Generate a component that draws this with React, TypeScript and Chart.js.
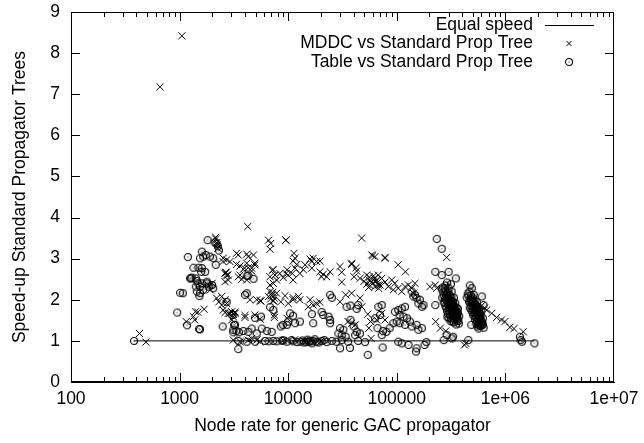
import React, { useEffect, useRef } from 'react';
import { Chart, registerables } from 'chart.js';

Chart.register(...registerables);

const xTickValues = [100, 1000, 10000, 100000, 1000000, 10000000];
const xTickLabels = ['100', '1000', '10000', '100000', '1e+06', '1e+07'];
const yTickValues = [0, 1, 2, 3, 4, 5, 6, 7, 8, 9];
const xTitle = 'Node rate for generic GAC propagator';
const yTitle = 'Speed-up Standard Propagator Trees';
const seriesLabels = ['Equal speed', 'MDDC vs Standard Prop Tree', 'Table vs Standard Prop Tree'];

const equalSpeedX = [380, 1850000];
const equalSpeedY = [1, 1];

const mddcPoints: [number, number][] = [
  [660, 7.18], [1050, 8.42],
  [427, 1.18], [490, 0.97], [1150, 1.47], [1380, 1.51], [1340, 1.59], [1400, 1.71], [1680, 1.77], [1470, 1.70],
  [2150, 3.52], [2200, 3.39], [2230, 3.33], [2150, 3.48], [2250, 3.25],
  [1860, 2.34], [1990, 2.40], [1920, 2.24],
  [2190, 2.04], [2300, 1.95], [2440, 1.87], [2440, 2.08], [2620, 2.0], [2710, 1.91], [2520, 1.75], [2620, 1.69],
  [2810, 1.67], [3020, 1.71], [3240, 1.67], [3120, 1.59], [3020, 1.51],
  [2510, 2.93], [2520, 3.01], [2710, 2.97], [2910, 2.93], [2680, 2.66], [2710, 2.60], [2620, 2.44], [2810, 2.48], [2620, 2.64],
  [3340, 3.13], [3470, 3.09], [4150, 3.11], [4290, 3.05], [4790, 3.09], [4930, 2.89], [4150, 2.89], [3600, 2.82],
  [3860, 2.74], [3470, 2.56], [4150, 2.48], [3730, 2.50], [4600, 2.77], [3600, 2.60],
  [4240, 3.78],
  [3340, 2.86], [3960, 2.77], [4290, 2.78], [4930, 2.85], [4600, 2.70],
  [2660, 2.67], [2780, 2.60],
  [7140, 2.72], [7560, 2.60], [6800, 2.36], [7290, 2.40], [7830, 2.48], [9000, 2.54],
  [6600, 3.45], [6900, 3.37], [6800, 3.23], [9550, 3.45],
  [6800, 2.20], [7140, 2.12], [7450, 2.04], [6600, 2.08], [7290, 1.97], [7830, 2.16], [7000, 2.10], [7200, 2.18], [6900, 2.02],
  [2910, 1.67], [3120, 1.65], [3240, 1.70], [4000, 1.62], [4450, 2.0], [5130, 2.0], [5620, 1.97], [7450, 1.63],
  [4000, 1.57], [4930, 1.63], [5530, 1.53], [7450, 1.57], [9760, 1.55],
  [5500, 1.98], [7290, 1.98], [8540, 1.95], [11100, 2.0], [12800, 2.0],
  [7290, 2.73], [8370, 2.64], [9760, 2.73], [10900, 2.64], [11100, 2.48], [6800, 2.56],
  [3120, 1.02], [3600, 0.98], [4290, 1.02], [4600, 1.06], [5130, 1.02], [5500, 0.98],
  [9500, 3.45], [47500, 3.50], [60000, 3.07],
  [11300, 3.13], [11550, 3.01], [11100, 2.94], [12000, 2.86], [11550, 2.77], [9550, 2.64], [10000, 2.60], [14300, 2.85],
  [15900, 2.99], [17000, 3.01], [16500, 2.93], [18300, 2.93], [19600, 2.94], [13800, 2.73], [16500, 2.77], [12800, 2.64],
  [19600, 2.68], [21000, 2.62], [20300, 2.56], [24300, 2.68], [22600, 2.56],
  [9350, 2.10], [11100, 2.05], [12400, 2.08], [10000, 1.91], [15900, 2.0], [17000, 1.87], [18300, 1.91], [15300, 1.83], [19600, 1.94],
  [30000, 2.81], [31100, 2.67], [38400, 2.86], [42100, 2.78], [42700, 2.70], [40400, 2.56], [45800, 2.52], [52800, 2.60],
  [55800, 2.48], [58700, 2.43], [65200, 2.48], [67500, 2.36], [63000, 2.32],
  [50000, 2.45], [53000, 2.38], [56000, 2.55], [60000, 2.40], [62000, 2.52], [64000, 2.44], [57000, 2.34], [68000, 2.28], [55000, 2.30], [61000, 2.58],
  [38400, 2.89], [58700, 3.09], [77900, 3.03],
  [31100, 2.43], [33800, 2.12], [30000, 1.95], [38400, 2.16], [45800, 2.04], [47600, 1.83], [54000, 1.65], [57400, 1.47],
  [55300, 1.31], [41300, 1.39], [38400, 1.43], [35600, 1.47],
  [288000, 3.03], [77900, 3.01], [103000, 2.85], [120000, 2.68], [63000, 3.05],
  [67500, 2.60], [72600, 2.52], [77900, 2.43], [70000, 2.36], [83500, 2.32], [89700, 2.48], [96000, 2.40], [92900, 2.24],
  [103000, 2.28], [111000, 2.20], [119000, 2.32], [128000, 2.36], [137000, 2.28], [147000, 2.40], [142000, 2.16],
  [202000, 2.32], [226000, 2.36], [233000, 2.28],
  [72600, 1.67], [77900, 1.51], [65200, 1.51],
  [228000, 1.47], [252000, 1.31], [282000, 1.24], [432000, 0.94], [420000, 0.90],
  [673000, 1.75], [750000, 1.67], [830000, 1.57], [920000, 1.51], [990000, 1.47], [1100000, 1.33], [1460000, 1.22],
  [600000, 1.85], [640000, 1.80], [1200000, 1.30],
  [58000, 1.06], [16000, 1.02], [20000, 0.99], [14000, 1.0], [9000, 1.01], [11500, 1.03],
];

const tablePoints: [number, number][] = [
  [380, 1.0], [1190, 3.04], [1250, 2.52], [1070, 2.16], [950, 1.69], [1170, 1.38], [1010, 2.17],
  [1810, 3.45], [2100, 3.40], [2300, 3.20], [2250, 3.30], [2180, 3.36],
  [1600, 3.17], [1540, 3.01], [1650, 3.05], [1740, 3.09], [1900, 3.05], [2040, 3.01], [2150, 2.85],
  [1340, 2.78], [1490, 2.78], [1600, 2.77], [1580, 2.68], [1720, 2.68],
  [1290, 2.54], [1410, 2.52], [1470, 2.40], [1410, 2.32], [1540, 2.16],
  [1780, 2.44], [1850, 2.32], [1990, 2.36], [2040, 2.28],
  [1270, 2.52], [1440, 2.46], [1600, 2.40], [1770, 2.40], [1540, 2.32], [1650, 2.24], [1440, 2.20], [1520, 2.09],
  [1540, 1.28],
  [4290, 2.59], [4790, 2.51], [4150, 2.58],
  [2710, 1.95], [3070, 1.63], [4000, 2.12], [4150, 2.16], [4930, 1.56], [5620, 1.59], [8540, 1.35],
  [6800, 1.82], [7290, 1.75],
  [1510, 1.29], [2490, 1.35], [3170, 1.39], [3340, 1.24], [3120, 1.21], [3240, 1.39], [3120, 1.27],
  [3520, 1.21], [3860, 1.24], [4290, 1.22], [4600, 1.30], [5130, 1.18], [5700, 1.30], [6350, 1.24], [7030, 1.22],
  [3470, 1.0], [4150, 0.98], [4930, 0.98], [6100, 1.0], [6600, 0.99], [7290, 1.0], [7830, 0.99], [8800, 1.0],
  [3470, 0.80],
  [24300, 2.12], [25200, 2.05], [20300, 1.70], [21000, 1.63], [23500, 1.59], [24300, 1.51], [24300, 1.43], [16500, 1.65],
  [17000, 1.43], [11100, 1.61], [10400, 1.67], [10000, 1.47], [11550, 1.43], [12800, 1.47], [9700, 1.39], [8900, 1.39],
  [34500, 1.83], [37400, 1.86], [44000, 1.87], [42700, 1.78], [37400, 1.51], [40000, 1.35], [42700, 1.22], [45800, 1.18], [41300, 1.14],
  [30000, 1.31], [32200, 1.27], [29000, 1.18], [31100, 1.14], [33800, 1.10],
  [8900, 1.02], [9700, 0.98], [10700, 1.02], [12000, 0.97], [13000, 0.98], [14600, 0.98], [16500, 0.94], [18300, 0.98],
  [20300, 1.0], [22600, 0.97], [25200, 1.0], [27700, 0.98], [31100, 1.02], [35600, 0.98], [44000, 1.0], [51000, 0.97],
  [13500, 1.01], [14000, 0.96], [15000, 1.03], [15500, 0.97], [16000, 1.0], [17000, 0.99], [17500, 1.04], [19000, 0.96],
  [21500, 1.02], [11000, 0.99],
  [30000, 0.82], [37000, 0.83], [54000, 0.66], [74000, 0.84], [150000, 0.74], [180000, 0.90],
  [233000, 3.48], [259000, 3.24],
  [137000, 2.20], [147000, 2.12], [152000, 2.04], [158000, 1.91], [170000, 1.83], [176000, 1.87], [142000, 2.08], [163000, 2.0],
  [96000, 1.71], [103000, 1.75], [111000, 1.79], [119000, 1.83], [106000, 1.63], [115000, 1.59], [124000, 1.55], [99800, 1.47],
  [92900, 1.43], [106000, 1.43], [119000, 1.39], [132000, 1.47], [137000, 1.35], [152000, 1.39], [158000, 1.27], [170000, 1.31],
  [86000, 1.31], [80000, 1.22], [74400, 1.24],
  [67500, 1.83], [72600, 1.87], [70000, 1.63], [63000, 1.55], [66400, 1.31], [72600, 1.14],
  [226000, 1.87], [288000, 1.14], [320000, 1.06], [270000, 1.02], [187000, 0.97], [152000, 0.82], [128000, 0.90], [111000, 0.94], [103000, 0.98],
  [226000, 2.68], [259000, 2.60], [300000, 2.68], [349000, 2.52],
  [605000, 2.08], [628000, 1.87], [580000, 1.59], [605000, 1.39], [485000, 1.39],
  [455000, 1.02], [330000, 1.10],
  [1360000, 1.10], [1420000, 0.98], [1380000, 1.02], [1850000, 0.94],
  [265000, 2.30], [280000, 2.35], [300000, 2.28], [320000, 2.20], [290000, 2.15], [270000, 2.10], [310000, 2.10], [335000, 2.05],
  [285000, 2.00], [300000, 1.98], [320000, 1.95], [345000, 1.92], [275000, 1.92], [295000, 1.88], [310000, 1.85], [330000, 1.82],
  [355000, 1.80], [285000, 1.80], [300000, 1.75], [320000, 1.72], [340000, 1.70], [365000, 1.68], [295000, 1.65], [310000, 1.62],
  [330000, 1.60], [350000, 1.58], [315000, 1.55], [340000, 1.52], [360000, 1.50], [325000, 1.47], [280000, 2.22], [305000, 2.02],
  [325000, 1.88], [305000, 1.68], [290000, 1.72], [345000, 1.62], [375000, 1.60], [260000, 2.25], [290000, 2.42], [315000, 2.38],
  [270000, 1.95],
  [262000, 2.05], [268000, 2.18], [275000, 2.28], [283000, 2.10], [288000, 2.05], [293000, 1.95], [298000, 2.08], [303000, 1.92],
  [308000, 1.78], [313000, 1.98], [318000, 1.85], [323000, 1.78], [328000, 1.68], [333000, 1.75], [338000, 1.85], [343000, 1.78],
  [348000, 1.70], [353000, 1.66], [358000, 1.62], [362000, 1.55], [368000, 1.48], [372000, 1.42], [300000, 1.55], [335000, 1.45],
  [350000, 1.40], [280000, 1.85], [298000, 2.18], [318000, 2.05], [330000, 1.95], [278000, 2.02], [292000, 1.58], [312000, 1.48],
  [355000, 1.72], [365000, 1.78],
  [450000, 2.15], [480000, 2.10], [500000, 2.05], [470000, 2.00], [520000, 1.98], [545000, 1.95], [490000, 1.92], [510000, 1.88],
  [535000, 1.85], [560000, 1.82], [480000, 1.85], [500000, 1.78], [525000, 1.75], [550000, 1.72], [575000, 1.70], [515000, 1.68],
  [540000, 1.65], [565000, 1.62], [590000, 1.60], [530000, 1.58], [555000, 1.55], [580000, 1.52], [545000, 1.48], [570000, 1.45],
  [600000, 1.42], [560000, 1.40], [590000, 1.36], [465000, 2.20], [510000, 2.12], [495000, 1.70], [620000, 1.55], [440000, 2.05],
  [470000, 2.35], [490000, 2.28],
  [455000, 2.10], [462000, 1.95], [475000, 1.92], [485000, 2.02], [495000, 1.98], [505000, 1.95], [515000, 1.80], [525000, 1.90],
  [535000, 1.70], [545000, 1.78], [555000, 1.65], [565000, 1.75], [575000, 1.58], [585000, 1.66], [595000, 1.50], [610000, 1.45],
  [525000, 1.52], [540000, 1.42], [550000, 1.35], [575000, 1.38], [505000, 1.62], [520000, 1.62], [485000, 1.75], [470000, 1.80],
  [600000, 1.72], [620000, 1.40], [630000, 1.32], [565000, 1.30],
];

const FONT = '"Liberation Sans", Arial, Helvetica, sans-serif';
const FONT_SIZE = 17.5;

function makeCircleMarker(): HTMLCanvasElement {
  const c = document.createElement('canvas');
  c.width = 10;
  c.height = 10;
  const g = c.getContext('2d')!;
  g.strokeStyle = '#000';
  g.lineWidth = 1.1;
  g.beginPath();
  g.arc(5, 5, 3.5, 0, Math.PI * 2);
  g.stroke();
  g.fillStyle = '#000';
  g.fillRect(4.5, 4.5, 1, 1);
  return c;
}

function zeroPadding(scale: any) {
  scale.paddingTop = 0;
  scale.paddingBottom = 0;
  scale.paddingLeft = 0;
  scale.paddingRight = 0;
}

export default function App() {
  const ref = useRef<HTMLCanvasElement | null>(null);

  useEffect(() => {
    if (!ref.current) return;
    const circle = makeCircleMarker();

    const framePlugin = {
      id: 'gnuFrame',
      afterDraw(chart: any) {
        const ctx: CanvasRenderingContext2D = chart.ctx;
        const a = chart.chartArea;
        const xs = chart.scales.x;
        const ys = chart.scales.y;
        ctx.save();
        ctx.fillStyle = '#000';
        ctx.strokeStyle = '#000';
        ctx.lineWidth = 1;
        const L = Math.round(a.left);
        const R = Math.round(a.right) - 1;
        const T = Math.round(a.top);
        const B = Math.round(a.bottom) - 1;
        ctx.beginPath();
        ctx.moveTo(L + 0.5, T + 0.5);
        ctx.lineTo(R + 0.5, T + 0.5);
        ctx.lineTo(R + 0.5, B + 0.5);
        ctx.lineTo(L + 0.5, B + 0.5);
        ctx.lineTo(L + 0.5, T + 0.5);
        ctx.stroke();
        for (const v of yTickValues) {
          const y = Math.min(Math.max(Math.round(ys.getPixelForValue(v)), T), B);
          ctx.fillRect(L, y, 9, 1);
          ctx.fillRect(R - 8, y, 9, 1);
        }
        const last = xTickValues[xTickValues.length - 1];
        for (const base of xTickValues) {
          for (let m = 1; m <= 9; m++) {
            const v = base * m;
            if (v > last) break;
            const x = Math.min(Math.max(Math.round(xs.getPixelForValue(v)), L), R);
            const len = m === 1 ? 9 : 5;
            ctx.fillRect(x, B - len + 1, 1, len);
            ctx.fillRect(x, T, 1, len);
          }
        }

        ctx.font = `${FONT_SIZE}px ${FONT}`;
        ctx.textAlign = 'right';
        ctx.textBaseline = 'middle';
        const textRight = 533;
        const rows = [25, 43.5, 62];
        const sampleX = 569;
        seriesLabels.forEach((lab, i) => ctx.fillText(lab, textRight, rows[i]));
        ctx.fillRect(545, Math.round(rows[0]), 49, 1);
        ctx.beginPath();
        const cy = rows[1];
        const d = 2.5;
        ctx.moveTo(sampleX - d, cy - d); ctx.lineTo(sampleX + d, cy + d);
        ctx.moveTo(sampleX - d, cy + d); ctx.lineTo(sampleX + d, cy - d);
        ctx.stroke();
        ctx.drawImage(circle, sampleX - 5, rows[2] - 5);
        ctx.restore();
      },
    };

    const chart = new Chart(ref.current, {
      type: 'scatter',
      data: {
        datasets: [
          {
            label: seriesLabels[0],
            data: equalSpeedX.map((x, i) => ({ x, y: equalSpeedY[i] })),
            showLine: true,
            borderColor: '#000',
            borderWidth: 1,
            pointRadius: 0,
          },
          {
            label: seriesLabels[1],
            data: mddcPoints.map(([x, y]) => ({ x, y })),
            pointStyle: 'crossRot',
            pointRadius: 5,
            borderColor: '#000',
            borderWidth: 1,
            backgroundColor: '#000',
          },
          {
            label: seriesLabels[2],
            data: tablePoints.map(([x, y]) => ({ x, y })),
            pointStyle: circle as any,
            pointRadius: 4,
            borderColor: '#000',
            backgroundColor: '#000',
          },
        ],
      },
      options: {
        animation: false,
        responsive: false,
        events: [],
        layout: { padding: { top: 12, right: 30, left: 0, bottom: 0 } },
        plugins: { legend: { display: false }, tooltip: { enabled: false } },
        scales: {
          x: {
            type: 'logarithmic',
            min: 100,
            max: 10000000,
            grid: { display: false, drawTicks: false },
            border: { display: true, color: '#000', width: 1 },
            afterBuildTicks: (scale: any) => {
              scale.ticks = xTickValues.map((v) => ({ value: v }));
            },
            afterFit: (scale: any) => {
              scale.height = 61;
              zeroPadding(scale);
            },
            ticks: {
              autoSkip: false,
              maxRotation: 0,
              padding: 7,
              font: { size: FONT_SIZE, family: FONT },
              color: '#000',
              callback: (_v: any, i: number) => xTickLabels[i],
            },
            title: {
              display: true,
              text: xTitle,
              font: { size: FONT_SIZE, family: FONT },
              color: '#000',
              padding: { top: 6.5, bottom: 6.5 },
            },
          },
          y: {
            type: 'linear',
            min: 0,
            max: 9,
            grid: { display: false, drawTicks: false },
            border: { display: true, color: '#000', width: 1 },
            afterBuildTicks: (scale: any) => {
              scale.ticks = yTickValues.map((v) => ({ value: v }));
            },
            afterFit: (scale: any) => {
              scale.width = 71;
              zeroPadding(scale);
            },
            ticks: {
              padding: 11,
              font: { size: FONT_SIZE, family: FONT },
              color: '#000',
              callback: (v: any) => String(v),
            },
            title: {
              display: true,
              text: yTitle,
              font: { size: FONT_SIZE, family: FONT },
              color: '#000',
              padding: { top: 10, bottom: 10 },
            },
          },
        },
      },
      plugins: [framePlugin],
    });
    return () => chart.destroy();
  }, []);

  return (
    <div style={{ position: 'absolute', left: 0, top: 0, width: 644, height: 443, background: '#fff' }}>
      <canvas ref={ref} width={644} height={443} />
    </div>
  );
}
